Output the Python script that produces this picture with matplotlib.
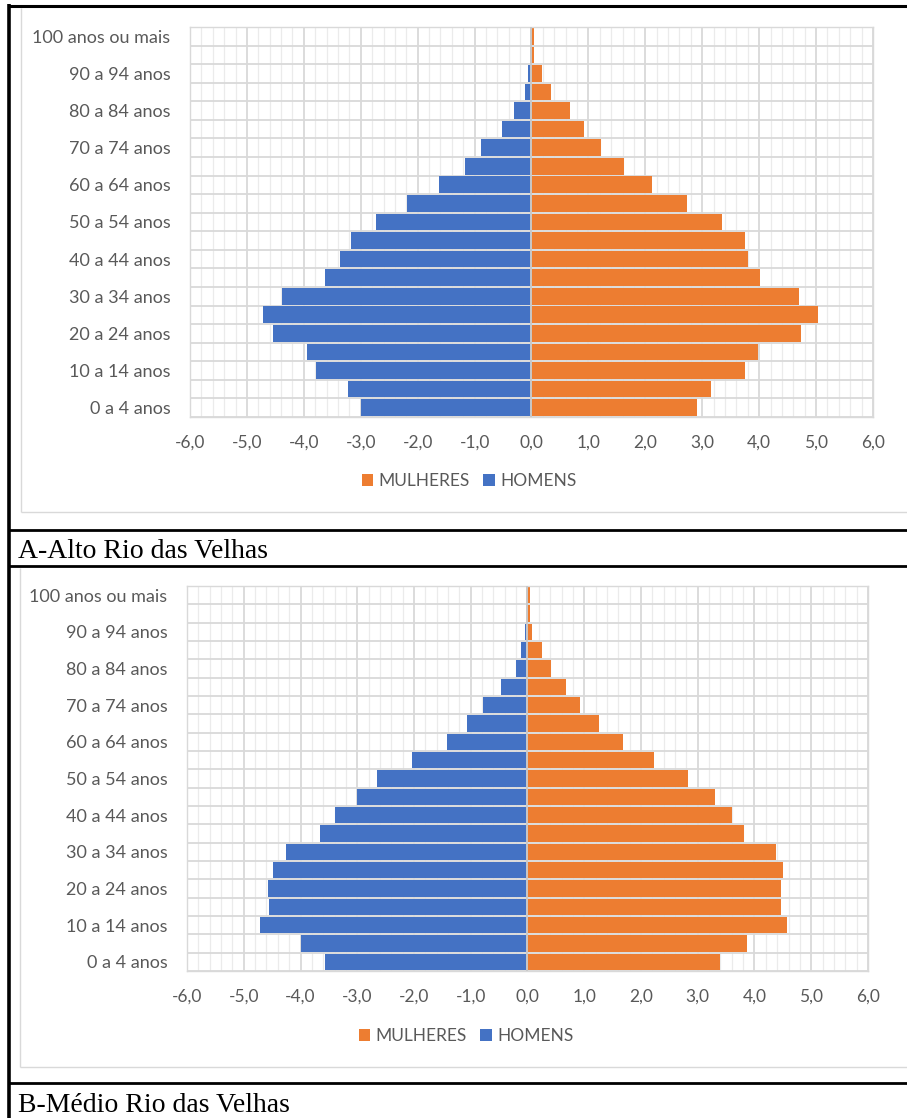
import matplotlib
matplotlib.use("Agg")
import matplotlib.pyplot as plt
from matplotlib.lines import Line2D
from matplotlib.patches import Patch
import numpy as np

W, H = 907, 1118

# Age groups, youngest first
faixas = ["0 a 4 anos", "5 a 9 anos", "10 a 14 anos", "15 a 19 anos", "20 a 24 anos",
          "25 a 29 anos", "30 a 34 anos", "35 a 39 anos", "40 a 44 anos", "45 a 49 anos",
          "50 a 54 anos", "55 a 59 anos", "60 a 64 anos", "65 a 69 anos", "70 a 74 anos",
          "75 a 79 anos", "80 a 84 anos", "85 a 89 anos", "90 a 94 anos", "95 a 99 anos",
          "100 anos ou mais"]

# Alto Rio das Velhas (% of population)
homens_alto = [-2.99, -3.23, -3.79, -3.95, -4.54, -4.71, -4.38, -3.62, -3.36, -3.17,
               -2.73, -2.18, -1.63, -1.17, -0.88, -0.51, -0.31, -0.12, -0.06, -0.02, -0.01]
mulheres_alto = [2.90, 3.16, 3.75, 3.98, 4.73, 5.03, 4.70, 4.01, 3.81, 3.75,
                 3.35, 2.74, 2.11, 1.62, 1.22, 0.93, 0.67, 0.34, 0.18, 0.05, 0.04]

# Médio Rio das Velhas (% of population)
homens_medio = [-3.57, -4.00, -4.71, -4.55, -4.57, -4.48, -4.25, -3.66, -3.40, -3.01,
                -2.66, -2.04, -1.42, -1.06, -0.79, -0.47, -0.21, -0.11, -0.05, -0.01, -0.01]
mulheres_medio = [3.40, 3.86, 4.58, 4.47, 4.47, 4.51, 4.38, 3.82, 3.61, 3.31,
                  2.82, 2.23, 1.68, 1.26, 0.93, 0.67, 0.41, 0.25, 0.08, 0.04, 0.05]

x_ticks = [-6, -5, -4, -3, -2, -1, 0, 1, 2, 3, 4, 5, 6]
legend_labels = ["MULHERES", "HOMENS"]
legendas = ["A-Alto Rio das Velhas", "B-Médio Rio das Velhas"]

AZUL = "#4472C4"
LARANJA = "#ED7D31"
CINZA_TXT = "#595959"
FONTE = ["Lato", "DejaVu Sans"]

fig = plt.figure(figsize=(W / 100, H / 100), dpi=100)


def px_axes(left, top, right, bottom):
    return fig.add_axes([left / W, 1 - bottom / H, (right - left) / W, (bottom - top) / H])


def fig_line(x0, y0, x1, y1, color="black", lw=2.0):
    fig.add_artist(Line2D([x0 / W, x1 / W], [1 - y0 / H, 1 - y1 / H],
                          transform=fig.transFigure, color=color, lw=lw,
                          solid_capstyle="butt"))


def piramide(ax, homens, mulheres):
    y = np.arange(len(faixas))
    ax.barh(y, mulheres, height=0.9, color=LARANJA, zorder=2)
    ax.barh(y, homens, height=0.9, color=AZUL, zorder=2)
    ax.axvline(0, color="#c9c9c9", lw=1.4, zorder=3)
    ax.set_xlim(-6, 6)
    ax.set_ylim(-0.5, len(faixas) - 0.5)
    ax.set_xticks(x_ticks)
    ax.set_xticklabels([f"{v:.1f}".replace(".", ",") for v in x_ticks],
                       fontfamily=FONTE, fontsize=12.5, color=CINZA_TXT)
    ax.set_xticks(np.arange(-6, 6.01, 0.2), minor=True)
    idx = y[::2]
    ax.set_yticks(idx)
    ax.set_yticklabels([faixas[i] for i in idx], fontfamily=FONTE, fontsize=13,
                       color=CINZA_TXT)
    ax.set_yticks(np.arange(-0.5, len(faixas), 1.0), minor=True)
    ax.set_axisbelow(True)
    ax.grid(which="minor", axis="x", color="#ebebeb", lw=0.9)
    ax.grid(which="major", axis="x", color="#d9d9d9", lw=1.3)
    ax.grid(which="minor", axis="y", color="#d9d9d9", lw=1.3)
    ax.grid(which="major", axis="y", visible=False)
    ax.tick_params(which="both", length=0)
    ax.tick_params(axis="y", pad=14)
    ax.tick_params(axis="x", pad=13)
    for s in ax.spines.values():
        s.set_color("#d9d9d9")
        s.set_linewidth(1.0)


def legenda(cx, cy):
    handles = [Patch(facecolor=LARANJA), Patch(facecolor=AZUL)]
    fig.legend(handles, legend_labels, loc="center", ncol=2,
               bbox_to_anchor=(cx / W, 1 - cy / H), frameon=False,
               prop={"family": FONTE, "size": 12.5}, labelcolor=CINZA_TXT,
               handlelength=0.65, handleheight=0.65, handletextpad=0.3,
               columnspacing=0.8, borderpad=0)


# Panel A
axA = px_axes(190, 27, 873, 417)
piramide(axA, homens_alto, mulheres_alto)
legenda(469, 481)

# Panel B
axB = px_axes(187, 586, 868, 971)
piramide(axB, homens_medio, mulheres_medio)
legenda(466, 1036)

# Chart area outlines
fig_line(21, 8, 21, 512, color="#d9d9d9", lw=1.0)
fig_line(21, 512, 907, 512, color="#d9d9d9", lw=1.0)
fig_line(20, 568, 20, 1067, color="#d9d9d9", lw=1.0)
fig_line(20, 1067, 907, 1067, color="#d9d9d9", lw=1.0)

# Table rules
fig_line(8, 5.5, 907, 5.5, lw=2.2)
fig_line(9, 4, 9, 1118, lw=2.6)
fig_line(8, 530, 907, 530, lw=2.0)
fig_line(8, 566, 907, 566, lw=2.0)
fig_line(8, 1083, 907, 1083, lw=2.0)

# Captions
fig.text(18 / W, 1 - 558 / H, legendas[0], fontfamily="Liberation Serif",
         fontsize=20, color="black", va="baseline", ha="left")
fig.text(18 / W, 1 - 1112 / H, legendas[1], fontfamily="Liberation Serif",
         fontsize=20, color="black", va="baseline", ha="left")

fig.savefig("out.png", dpi=100, facecolor="white")
